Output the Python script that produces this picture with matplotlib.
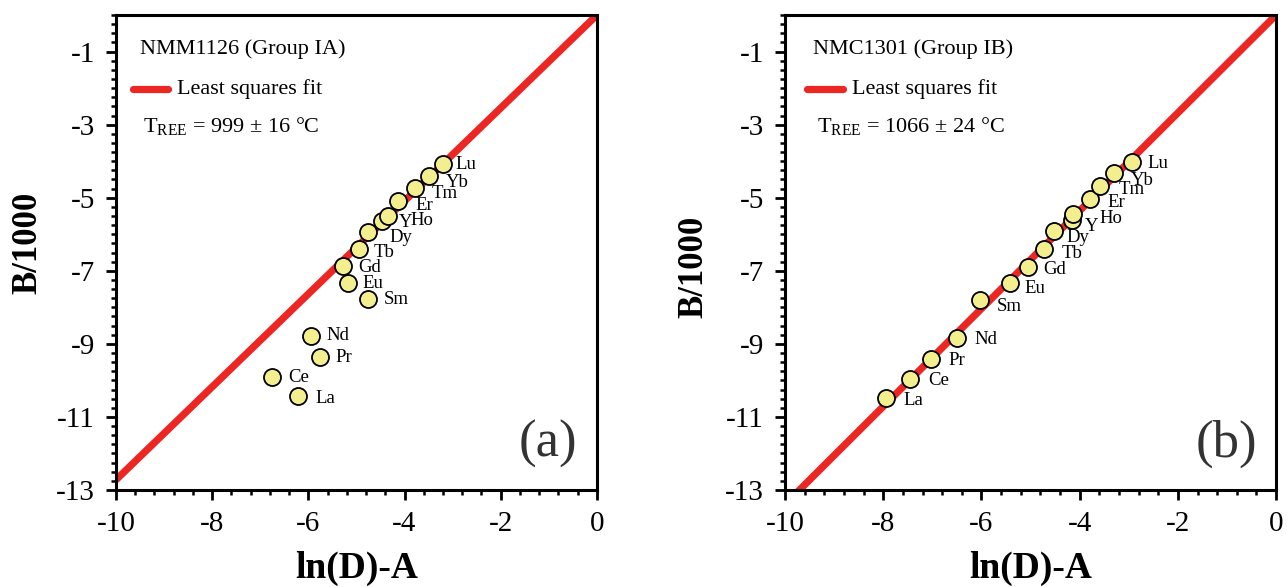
import numpy as np
import matplotlib
matplotlib.use("Agg")
import matplotlib.pyplot as plt
from matplotlib.ticker import MultipleLocator

plt.rcParams['font.family'] = ['Liberation Serif', 'DejaVu Serif']
plt.rcParams['mathtext.fontset'] = 'custom'
plt.rcParams['mathtext.rm'] = 'Liberation Serif'

# REE order as plotted
elements = ['La', 'Ce', 'Pr', 'Nd', 'Sm', 'Eu', 'Gd', 'Tb', 'Dy', 'Y', 'Ho', 'Er', 'Tm', 'Yb', 'Lu']

# panel (a) NMM1126
a_x = [-6.21, -6.75, -5.76, -5.95, -4.75, -5.18, -5.27, -4.95, -4.75, -4.46, -4.34, -4.13, -3.79, -3.49, -3.21]
a_y = [-10.43, -9.90, -9.35, -8.78, -7.78, -7.33, -6.87, -6.40, -5.95, -5.65, -5.51, -5.10, -4.73, -4.40, -4.09]
a_T = 999
a_err = 16

# panel (b) NMC1301
b_x = [-7.95, -7.45, -7.03, -6.50, -6.03, -5.42, -5.05, -4.73, -4.53, -4.16, -4.13, -3.79, -3.58, -3.31, -2.93]
b_y = [-10.49, -9.96, -9.41, -8.83, -7.80, -7.34, -6.89, -6.40, -5.90, -5.61, -5.45, -5.04, -4.67, -4.33, -4.03]
b_T = 1066
b_err = 24

x_ticks = [-10, -8, -6, -4, -2, 0]
y_ticks = [-1, -3, -5, -7, -9, -11, -13]

# label offsets in pixels (dx right, dy down)
a_off = [(17, 2), (16, 1), (16, 1), (16, 0), (15, 0), (15, 1), (15, 1), (15, 4), (21, 5), (16, 1), (22, 4),
         (17, 4), (17, 6), (17, 7), (13, 0)]
b_off = [(18, 2), (18, 2), (18, 2), (18, 2), (17, 6), (15, 5), (15, 3), (18, 5), (13, 7), (13, 6), (26, 4),
         (17, 3), (18, 4), (17, 7), (15, 1)]

RED = '#ec2622'
YELLOW = '#f3ef8f'
PX = 72 / 100.0  # points per pixel


def panel(ax, xs, ys, offs, T, err, name, tag, ylab_pos, txt_x):
    slope = (T + 273.15) / 1000.0
    lx = np.array([-10.0, 0.0])
    ax.plot(lx, slope * lx, color=RED, lw=5.2, solid_capstyle='butt', zorder=2)
    ax.scatter(xs, ys, s=150, facecolor=YELLOW, edgecolor='black', linewidth=1.3, zorder=3)
    for el, x, y, (dx, dy) in zip(elements, xs, ys, offs):
        ax.annotate(el, (x, y), xytext=(dx * PX, -dy * PX), textcoords='offset points',
                    ha='left', va='center', fontsize=13.5, zorder=4)

    ax.set_xlim(-10, 0)
    ax.set_ylim(-13, 0)
    ax.set_xticks(x_ticks)
    ax.set_xticklabels([str(t) for t in x_ticks])
    ax.xaxis.set_minor_locator(MultipleLocator(0.4))
    ax.set_yticks(y_ticks)
    ax.set_yticklabels([str(t) for t in y_ticks])
    ax.yaxis.set_minor_locator(MultipleLocator(0.25))
    ax.tick_params(which='major', direction='out', length=7, width=2, labelsize=21, pad=8)
    ax.tick_params(which='minor', direction='out', length=3.8, width=1.8)
    for sp in ax.spines.values():
        sp.set_linewidth(2.2)

    ax.set_xlabel('ln(D)-A', fontsize=27, fontweight='bold')
    ax.xaxis.set_label_coords(0.5, -0.128)
    ax.set_ylabel('B/1000', fontsize=25, fontweight='bold')
    ax.yaxis.set_label_coords(ylab_pos[0], ylab_pos[1])

    ax.text(txt_x[0], 0.928, name, transform=ax.transAxes,
            fontsize=16, va='center', ha='left')
    x0 = txt_x[1]
    ax.plot([x0, x0 + 0.072], [0.845, 0.845], transform=ax.transAxes, color=RED, lw=5.2,
            solid_capstyle='round')
    ax.text(x0 + 0.091, 0.845, 'Least squares fit', transform=ax.transAxes,
            fontsize=16, va='center', ha='left')
    ax.text(txt_x[2], 0.765,
            r'T$_{\rm REE}$ = %d ± %d °C' % (T, err), transform=ax.transAxes,
            fontsize=16, va='center', ha='left')
    ax.text(0.898, 0.097, tag, transform=ax.transAxes, fontsize=38, va='center', ha='center',
            color='#333333')


fig = plt.figure(figsize=(12.87, 5.87), dpi=100)
ax1 = fig.add_axes([0.0901, 0.1652, 0.3737, 0.8092])
ax2 = fig.add_axes([0.6100, 0.1652, 0.3815, 0.8092])

panel(ax1, a_x, a_y, a_off, a_T, a_err, 'NMM1126 (Group IA)', '(a)', (-0.148, 0.52), (0.05, 0.036, 0.056))
panel(ax2, b_x, b_y, b_off, b_T, b_err, 'NMC1301 (Group IB)', '(b)', (-0.153, 0.47), (0.057, 0.045, 0.065))

fig.savefig('out.png', dpi=100)
